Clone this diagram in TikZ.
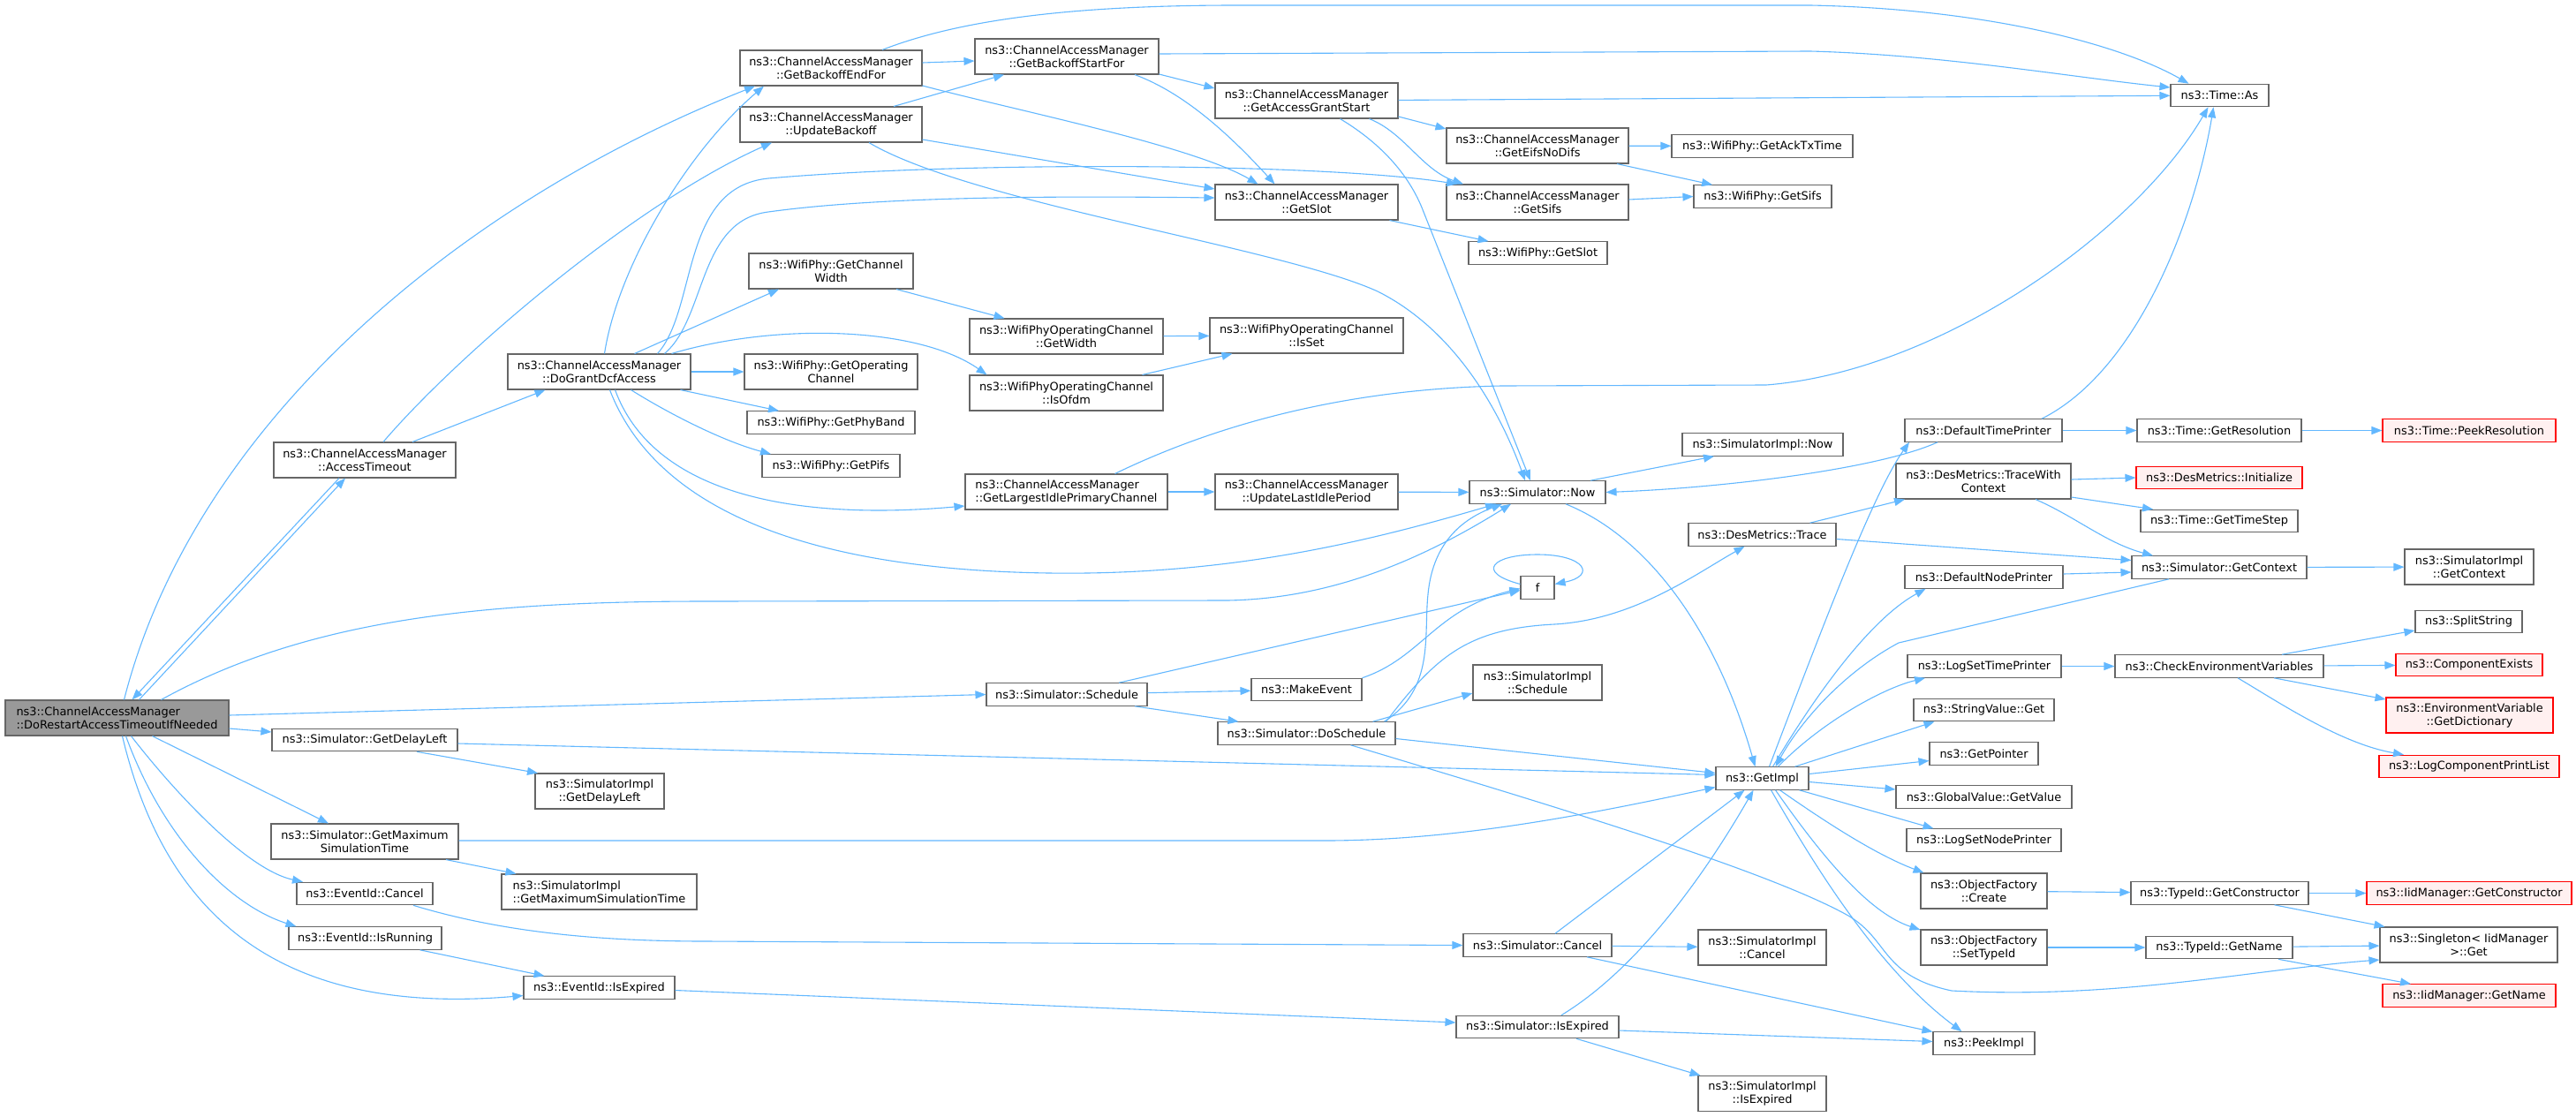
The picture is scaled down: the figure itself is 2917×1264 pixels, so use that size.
\documentclass[tikz,border=0pt]{standalone}
\usepackage{fontspec}
\setmainfont{DejaVu Sans}
\usetikzlibrary{arrows.meta}
\definecolor{edgeblue}{HTML}{63B8FF}
\definecolor{nodegray}{HTML}{666666}
\definecolor{rootgray}{HTML}{999999}
\definecolor{redline}{HTML}{FF0000}
\definecolor{redfill}{HTML}{FFF0F0}
\tikzset{
 nd/.style={draw=nodegray, fill=white, line width=1.1pt, rectangle, inner xsep=2pt, inner ysep=0pt,
   font=\fontsize{12.9}{15}\selectfont, align=center, minimum height=25.5pt},
 two/.style={minimum height=40pt},
 bw/.style={minimum width=#1pt},
 rootnd/.style={nd, fill=rootgray},
 rednd/.style={nd, draw=redline, fill=redfill},
 edg/.style={draw=edgeblue, line width=1.1pt, -{Triangle[length=12pt,width=9pt]}},
}
\begin{document}
\begin{tikzpicture}[x=1pt,y=-1pt]
\fill[white] (0,0) rectangle (2917,1264);
\useasboundingbox (0,0) rectangle (2917,1264);
% nodes
\node[rootnd, two, bw=253, align=left] (root) at (132.5,813) {ns3::ChannelAccessManager\\::DoRestartAccessTimeoutIfNeeded};
\node[nd, two, bw=206] (acct) at (413,521) {ns3::ChannelAccessManager\\::AccessTimeout};
\node[nd, two, bw=207] (grant) at (678.5,421) {ns3::ChannelAccessManager\\::DoGrantDcfAccess};
\node[nd, bw=210] (sgdl) at (413,838) {ns3::Simulator::GetDelayLeft};
\node[nd, two, bw=146] (sigdl) at (679,896) {ns3::SimulatorImpl\\::GetDelayLeft};
\node[nd, two, bw=212] (smax) at (413,953) {ns3::Simulator::GetMaximum\\SimulationTime};
\node[nd, two, bw=221, align=left] (simax) at (678.5,1010) {ns3::SimulatorImpl\\::GetMaximumSimulationTime};
\node[nd, bw=154] (ecancel) at (413,1012) {ns3::EventId::Cancel};
\node[nd, bw=173] (erun) at (413.5,1062.5) {ns3::EventId::IsRunning};
\node[nd, bw=171] (eexp) at (678.5,1118.5) {ns3::EventId::IsExpired};
\node[nd, two, bw=206] (bend) at (941,77) {ns3::ChannelAccessManager\\::GetBackoffEndFor};
\node[nd, two, bw=206] (upd) at (941,141) {ns3::ChannelAccessManager\\::UpdateBackoff};
\node[nd, two, bw=186] (chw) at (941,307) {ns3::WifiPhy::GetChannel\\Width};
\node[nd, two, bw=196] (opch) at (941,421) {ns3::WifiPhy::GetOperating\\Channel};
\node[nd, bw=190] (band) at (941,478.5) {ns3::WifiPhy::GetPhyBand};
\node[nd, bw=156] (pifs) at (941,527.5) {ns3::WifiPhy::GetPifs};
\node[nd, two, bw=208] (bstart) at (1208,64) {ns3::ChannelAccessManager\\::GetBackoffStartFor};
\node[nd, two, bw=219] (ocw) at (1207.5,381) {ns3::WifiPhyOperatingChannel\\::GetWidth};
\node[nd, two, bw=219] (ofdm) at (1207.5,445) {ns3::WifiPhyOperatingChannel\\::IsOfdm};
\node[nd, two, bw=229, align=left] (largest) at (1207.5,557) {ns3::ChannelAccessManager\\::GetLargestIdlePrimaryChannel};
\node[nd, bw=182] (sched) at (1208,786.5) {ns3::Simulator::Schedule};
\node[nd, bw=125] (mk) at (1479.5,781) {ns3::MakeEvent};
\node[nd, bw=201] (dosched) at (1479.5,830.5) {ns3::Simulator::DoSchedule};
\node[nd, two, bw=207] (grantst) at (1479.5,114) {ns3::ChannelAccessManager\\::GetAccessGrantStart};
\node[nd, two, bw=207] (slot) at (1479.5,229) {ns3::ChannelAccessManager\\::GetSlot};
\node[nd, two, bw=219] (isset) at (1479.5,380) {ns3::WifiPhyOperatingChannel\\::IsSet};
\node[nd, two, bw=207] (lastidle) at (1479.5,557) {ns3::ChannelAccessManager\\::UpdateLastIdlePeriod};
\node[nd, two, bw=206] (eifs) at (1741,165) {ns3::ChannelAccessManager\\::GetEifsNoDifs};
\node[nd, two, bw=206] (sifs) at (1741,229) {ns3::ChannelAccessManager\\::GetSifs};
\node[nd, bw=157] (pslot) at (1741.5,286.5) {ns3::WifiPhy::GetSlot};
\node[nd, bw=154] (now) at (1741,557.5) {ns3::Simulator::Now};
\node[nd, bw=38] (f) at (1741,665.5) {f};
\node[nd, two, bw=146] (sisched) at (1741,773) {ns3::SimulatorImpl\\::Schedule};
\node[nd, bw=168] (scancel) at (1741,1070.5) {ns3::Simulator::Cancel};
\node[nd, bw=184] (sexp) at (1741,1163) {ns3::Simulator::IsExpired};
\node[nd, bw=205] (ack) at (1995.5,165.5) {ns3::WifiPhy::GetAckTxTime};
\node[nd, bw=156] (psifs) at (1996,222.5) {ns3::WifiPhy::GetSifs};
\node[nd, bw=182] (sinow) at (1996,503.5) {ns3::SimulatorImpl::Now};
\node[nd, bw=167] (trace) at (1995.5,605.5) {ns3::DesMetrics::Trace};
\node[nd, bw=105] (impl) at (1995.5,881.5) {ns3::GetImpl};
\node[nd, two, bw=145] (sicancel) at (1995.5,1073) {ns3::SimulatorImpl\\::Cancel};
\node[nd, two, bw=145] (siexp) at (1995.5,1238.5) {ns3::SimulatorImpl\\::IsExpired};
\node[nd, bw=178] (dtp) at (2246,487.5) {ns3::DefaultTimePrinter};
\node[nd, two, bw=198] (twc) at (2246,545) {ns3::DesMetrics::TraceWith\\Context};
\node[nd, bw=179] (dnp) at (2246.5,653.5) {ns3::DefaultNodePrinter};
\node[nd, bw=174] (lstp) at (2247,754.5) {ns3::LogSetTimePrinter};
\node[nd, bw=159] (svget) at (2246.5,804) {ns3::StringValue::Get};
\node[nd, bw=123] (gptr) at (2246.5,853.5) {ns3::GetPointer};
\node[nd, bw=199] (gvget) at (2246.5,902.5) {ns3::GlobalValue::GetValue};
\node[nd, bw=175] (lsnp) at (2246.5,951.5) {ns3::LogSetNodePrinter};
\node[nd, two, bw=143] (ofc) at (2246.5,1009) {ns3::ObjectFactory\\::Create};
\node[nd, two, bw=143] (ofs) at (2246.5,1073) {ns3::ObjectFactory\\::SetTypeId};
\node[nd, bw=115] (peek) at (2246.5,1181.5) {ns3::PeekImpl};
\node[nd, bw=111] (timeas) at (2513.5,108) {ns3::Time::As};
\node[nd, bw=186] (gres) at (2513,487.5) {ns3::Time::GetResolution};
\node[rednd, bw=188] (dminit) at (2513,541) {ns3::DesMetrics::Initialize};
\node[nd, bw=178] (tstep) at (2513,590) {ns3::Time::GetTimeStep};
\node[nd, bw=198] (sctx) at (2513,642.5) {ns3::Simulator::GetContext};
\node[nd, bw=236] (cev) at (2513,754.5) {ns3::CheckEnvironmentVariables};
\node[nd, bw=201] (tgc) at (2513.5,1011.5) {ns3::TypeId::GetConstructor};
\node[nd, bw=166] (tgn) at (2513,1073) {ns3::TypeId::GetName};
\node[rednd, bw=196] (pres) at (2796,487.5) {ns3::Time::PeekResolution};
\node[nd, two, bw=146] (sictx) at (2796,642) {ns3::SimulatorImpl\\::GetContext};
\node[nd, bw=121] (split) at (2795.5,704) {ns3::SplitString};
\node[rednd, bw=166] (cexists) at (2796,753) {ns3::ComponentExists};
\node[rednd, two, bw=189] (envdict) at (2796.5,810) {ns3::EnvironmentVariable\\::GetDictionary};
\node[rednd, bw=204] (lcpl) at (2796,868) {ns3::LogComponentPrintList};
\node[rednd, bw=232] (iidgc) at (2796,1011.5) {ns3::IidManager::GetConstructor};
\node[nd, two, bw=201] (single) at (2795.5,1070) {ns3::Singleton< IidManager\\>::Get};
\node[rednd, bw=196] (iidgn) at (2796,1127.5) {ns3::IidManager::GetName};
% root edges
\draw[edg] ([xshift=25]root.north) -- ([xshift=-22]acct.south);
\draw[edg] ([xshift=-29]acct.south) -- ([xshift=17]root.north);
\draw[edg] ([xshift=8]root.north) .. controls (220,480) and (520,230) .. ([xshift=-86]bend.south);
\draw[edg] ([xshift=50]root.north) .. controls (350,700) and (550,681) .. (800,681) -- (1390,680) .. controls (1500,678) and (1600,640) .. ([xshift=-30]now.south);
\draw[edg] ([yshift=3]root.east) -- (sched.west);
\draw[edg] ([yshift=-12]root.east) -- ([yshift=9]sgdl.west);
\draw[edg] ([xshift=40]root.south) -- ([xshift=-41]smax.north);
\draw[edg] ([xshift=16]root.south) .. controls (200,900) and (280,985) .. ([xshift=-70]ecancel.north);
\draw[edg] ([xshift=10]root.south) .. controls (185,950) and (260,1025) .. ([xshift=-78]erun.north);
\draw[edg] ([xshift=6]root.south) .. controls (190,1050) and (330,1150) .. ([yshift=-9]eexp.west);
% AccessTimeout
\draw[edg] ([xshift=54]acct.north) -- ([xshift=-61]grant.south);
\draw[edg] ([xshift=21]acct.north) .. controls (520,400) and (720,230) .. ([xshift=-67]upd.south);
% DoGrantDcfAccess
\draw[edg] ([xshift=6]grant.north) .. controls (700,300) and (780,170) .. ([xshift=-76]bend.south);
\draw[edg] ([xshift=74]grant.north) .. controls (800,360) and (790,250) .. (870,240) .. controls (1000,222) and (1200,222) .. ([yshift=5]slot.west);
\draw[edg] ([xshift=66]grant.north) .. controls (790,350) and (770,212) .. (870,202) .. controls (1100,182) and (1500,185) .. ([xshift=-91]sifs.north);
\draw[edg] ([xshift=40]grant.north) -- ([xshift=-59]chw.south);
\draw[edg] ([xshift=82]grant.north) .. controls (880,365) and (1040,370) .. ([xshift=-90]ofdm.north);
\draw[edg] (grant) -- (opch);
\draw[edg] ([xshift=92]grant.south) -- ([xshift=-59]band.north);
\draw[edg] ([xshift=36]grant.south) .. controls (760,470) and (820,500) .. ([xshift=-68]pifs.north);
\draw[edg] ([xshift=18]grant.south) .. controls (740,560) and (900,590) .. ([yshift=-16]largest.west);
\draw[edg] ([xshift=12]grant.south) .. controls (740,570) and (900,645) .. (1188,649) .. controls (1400,652) and (1560,610) .. ([xshift=-47]now.south);
% GetBackoffEndFor
\draw[edg] ([yshift=6]bend.east) -- ([yshift=-5]bstart.west);
\draw[edg] ([yshift=-20]bend.east) .. controls (1150,125) and (1350,165) .. ([xshift=-55]slot.north);
\draw[edg] ([xshift=58]bend.north) .. controls (1080,25) and (1200,6) .. (1400,6) -- (2050,6) .. controls (2250,10) and (2400,50) .. ([xshift=-35]timeas.north);
% UpdateBackoff
\draw[edg] ([xshift=71]upd.north) -- ([xshift=-71]bstart.south);
\draw[edg] ([yshift=-17]upd.east) -- ([yshift=15]slot.west);
\draw[edg] ([xshift=43]upd.south) .. controls (1100,230) and (1450,280) .. (1560,330) .. controls (1650,375) and (1700,470) .. ([xshift=-14]now.north);
% GetBackoffStartFor
\draw[edg] ([yshift=3]bstart.east) -- (2050,58) .. controls (2200,62) and (2350,88) .. ([yshift=9]timeas.west);
\draw[edg] ([yshift=-20]bstart.east) -- ([yshift=14]grantst.west);
\draw[edg] ([xshift=77]bstart.south) .. controls (1340,105) and (1390,150) .. ([xshift=-36]slot.north);
% GetAccessGrantStart
\draw[edg] (grantst) -- (timeas);
\draw[edg] ([yshift=-18]grantst.east) -- ([yshift=19]eifs.west);
\draw[edg] ([xshift=71]grantst.south) .. controls (1590,150) and (1610,192) .. ([xshift=-84]sifs.north);
\draw[edg] ([xshift=38]grantst.south) .. controls (1560,160) and (1595,195) .. (1612,240) -- ([xshift=-8]now.north);
% small ones
\draw[edg] (eifs) -- (ack);
\draw[edg] ([xshift=90]eifs.south) -- ([xshift=-57]psifs.north);
\draw[edg] ([yshift=3]sifs.east) -- (psifs.west);
\draw[edg] ([xshift=94]slot.south) -- ([xshift=-56]pslot.north);
\draw[edg] ([xshift=74]chw.south) -- ([xshift=-70]ocw.north);
\draw[edg] (ocw) -- (isset);
\draw[edg] ([xshift=86]ofdm.north) -- ([xshift=-84]isset.south);
\draw[edg] (largest) -- (lastidle);
\draw[edg] ([xshift=55]largest.north) .. controls (1400,470) and (1550,440) .. (1700,437) -- (2000,436) .. controls (2200,420) and (2420,260) .. ([xshift=-13]timeas.south);
\draw[edg] (lastidle) -- (now);
% Simulator::Now
\draw[edg] ([xshift=60]now.north) -- ([xshift=-55]sinow.south);
\draw[edg] ([xshift=32]now.south) .. controls (1870,610) and (1945,720) .. ([xshift=-8]impl.north);
% Schedule
\draw[edg] (sched) -- (mk);
\draw[edg] ([xshift=77]sched.south) -- ([xshift=-77]dosched.north);
\draw[edg] ([xshift=59]sched.north) -- ([yshift=-3]f.west);
\draw[edg] (mk.north east) .. controls (1610,745) and (1625,690) .. ([yshift=-1]f.west);
\draw[edg] ([yshift=4]f.west) .. controls (1670,648) and (1690,628) .. (1741,628) .. controls (1795,628) and (1808,652) .. ([yshift=4]f.east);
% DoSchedule
\draw[edg] ([xshift=88]dosched.north) .. controls (1625,780) and (1612,720) .. (1617,673) .. controls (1622,620) and (1650,590) .. ([xshift=-40]now.south);
\draw[edg] ([xshift=90]dosched.north) .. controls (1625,745) and (1660,712) .. (1760,707) .. controls (1850,702) and (1920,650) .. ([xshift=-20]trace.south);
\draw[edg] ([xshift=75]dosched.north) -- ([yshift=-12]sisched.west);
\draw[edg] ([yshift=-6]dosched.east) -- ([yshift=6]impl.west);
\draw[edg] ([xshift=50]dosched.south) .. controls (1750,910) and (2000,985) .. (2093,1037) .. controls (2140,1065) and (2130,1105) .. (2210,1122) .. controls (2400,1132) and (2550,1098) .. ([yshift=-17]single.west);
% DesMetrics
\draw[edg] ([xshift=54]trace.north) -- ([xshift=-89]twc.south);
\draw[edg] ([yshift=-5]trace.east) -- ([yshift=8]sctx.west);
\draw[edg] ([yshift=2]twc.east) -- (dminit.west);
\draw[edg] ([yshift=-18]twc.east) -- ([xshift=-75]tstep.north);
\draw[edg] ([xshift=59]twc.south) .. controls (2350,585) and (2385,615) .. ([xshift=-75]sctx.north);
% DefaultTimePrinter
\draw[edg] ([xshift=66]dtp.north) .. controls (2420,420) and (2485,250) .. ([xshift=-7]timeas.south);
\draw[edg] (dtp) -- (gres);
\draw[edg] ([xshift=-52]dtp.south) .. controls (2130,530) and (1960,552) .. (now.east);
\draw[edg] (gres) -- (pres);
% GetContext
\draw[edg] (sctx) -- (sictx);
\draw[edg] ([xshift=-57]sctx.south) -- (2150,728) .. controls (2090,760) and (2040,815) .. ([xshift=15]impl.north);
\draw[edg] ([yshift=3.5]dnp.east) -- ([yshift=-5.5]sctx.west);
% GetImpl
\draw[edg] ([xshift=8]impl.north) .. controls (2060,720) and (2120,560) .. ([xshift=-84]dtp.south);
\draw[edg] ([xshift=12]impl.north) .. controls (2060,780) and (2120,700) .. ([xshift=-66]dnp.south);
\draw[edg] ([xshift=18]impl.north) .. controls (2060,820) and (2130,780) .. ([xshift=-67]lstp.south);
\draw[edg] ([xshift=37]impl.north) -- ([xshift=-56]svget.south);
\draw[edg] ([yshift=5]impl.east) -- ([yshift=-8]gptr.west);
\draw[edg] ([yshift=-4]impl.east) -- ([yshift=8.5]gvget.west);
\draw[edg] ([xshift=42]impl.south) -- ([xshift=-57]lsnp.north);
\draw[edg] ([xshift=20]impl.south) .. controls (2080,940) and (2130,970) .. ([xshift=-68]ofc.north);
\draw[edg] ([xshift=15]impl.south) .. controls (2070,980) and (2120,1035) .. ([yshift=20]ofs.west);
\draw[edg] ([xshift=10]impl.south) .. controls (2060,990) and (2130,1100) .. ([xshift=-25]peek.north);
% right part
\draw[edg] (lstp) -- (cev);
\draw[edg] ([xshift=71]cev.north) -- ([yshift=-10]split.west);
\draw[edg] (cev) -- (cexists);
\draw[edg] ([xshift=62]cev.south) -- ([yshift=18]envdict.west);
\draw[edg] ([xshift=21]cev.south) .. controls (2580,795) and (2650,842) .. ([xshift=-74]lcpl.north);
\draw[edg] (ofc) -- (tgc);
\draw[edg] (tgc) -- (iidgc);
\draw[edg] ([xshift=62]tgc.south) -- ([xshift=-95]single.north);
\draw[edg] (ofs) -- (tgn);
\draw[edg] (tgn) -- (single);
\draw[edg] ([xshift=67]tgn.south) -- ([xshift=-66]iidgn.north);
% lower left
\draw[edg] ([xshift=59]sgdl.south) -- ([xshift=-70]sigdl.north);
\draw[edg] ([yshift=-4]sgdl.east) -- ([yshift=4]impl.west);
\draw[edg] ([xshift=92]smax.south) -- ([xshift=-94]simax.north);
\draw[edg] ([yshift=1]smax.east) -- (1500,952) .. controls (1650,952) and (1800,922) .. ([yshift=-10]impl.west);
\draw[edg] ([xshift=55]ecancel.south) .. controls (550,1050) and (650,1066) .. (800,1066) -- (scancel.west);
\draw[edg] ([xshift=62]erun.south) -- ([xshift=-62]eexp.north);
\draw[edg] ([yshift=-3]eexp.east) -- ([yshift=5]sexp.west);
\draw[edg] (scancel) -- (sicancel);
\draw[edg] ([xshift=56]scancel.south) -- ([yshift=13]peek.west);
\draw[edg] ([xshift=20]scancel.north) -- ([xshift=-20]impl.south);
\draw[edg] ([yshift=-4]sexp.east) -- ([yshift=2]peek.west);
\draw[edg] ([xshift=44]sexp.south) -- ([xshift=-70]siexp.north);
\draw[edg] ([xshift=27]sexp.north) .. controls (1850,1100) and (1925,1000) .. ([xshift=-10]impl.south);
\end{tikzpicture}
\end{document}
